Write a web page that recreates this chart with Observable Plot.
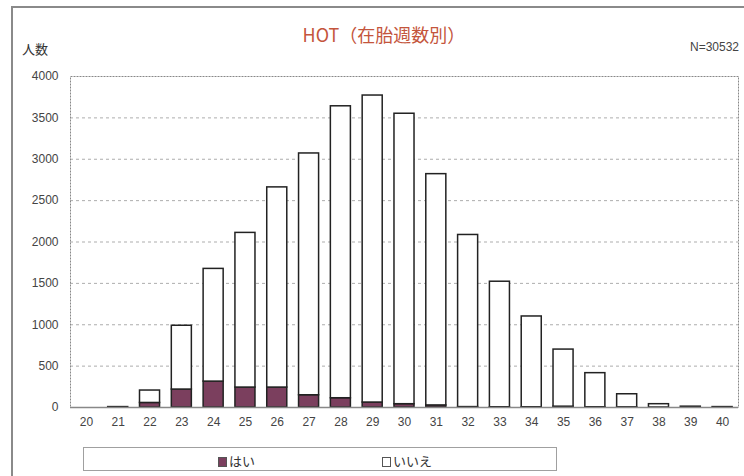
<!DOCTYPE html>
<html><head><meta charset="utf-8">
<script src="https://cdn.jsdelivr.net/npm/d3@7"></script>
<script src="https://cdn.jsdelivr.net/npm/@observablehq/plot@0.6"></script>
<style>
body{margin:0;background:#fff;font-family:"Liberation Sans","Noto Sans CJK JP",sans-serif;}
#wrap{position:relative;width:744px;height:476px;overflow:hidden;background:#fff;}
#border{position:absolute;left:11px;top:6px;width:800px;height:500px;border-left:2px solid #8a8a8a;border-top:2px solid #8a8a8a;}
.t{position:absolute;white-space:nowrap;}
#chart{position:absolute;left:0;top:0;}
#legend{position:absolute;left:83px;top:447px;width:472px;height:22px;border:1px solid #a0a0a0;font-size:13px;color:#333;}
.sw{display:inline-block;width:7px;height:8px;border:1px solid #555;vertical-align:middle;margin-right:2px;}
</style></head>
<body><div id="wrap">
<div id="border"></div>
<div class="t" style="left:0;width:768px;top:21px;text-align:center;font-size:18px;color:#c4553c;font-family:'Noto Sans CJK JP',sans-serif;">HOT（在胎週数別）</div>
<div class="t" style="left:22px;top:39px;font-size:13px;color:#333;font-family:'Noto Sans CJK JP',sans-serif;">人数</div>
<div class="t" style="left:690px;top:40px;font-size:12px;color:#444;">N=30532</div>
<div id="chart"></div>
<div id="legend">
  <span class="t" style="left:134px;top:3px;font-family:'Noto Sans CJK JP',sans-serif;"><span class="sw" style="background:#7b3f5e"></span>はい</span>
  <span class="t" style="left:298px;top:3px;font-family:'Noto Sans CJK JP',sans-serif;"><span class="sw" style="background:#fff"></span>いいえ</span>
</div>
</div>
<script>
const weeks = ["20","21","22","23","24","25","26","27","28","29","30","31","32","33","34","35","36","37","38","39","40"];
const totals = [0,5,205,988,1675,2110,2660,3070,3640,3770,3550,2820,2085,1520,1100,700,415,160,40,10,5];
const hai = [0,0,55,217,313,241,241,148,112,60,40,25,5,3,3,10,3,2,0,0,0];
const seriesNames = ["はい","いいえ"];
const yTicks = [0,500,1000,1500,2000,2500,3000,3500,4000];

const rows = [];
weeks.forEach((w,i)=>rows.push({week:w, series:seriesNames[0], value:hai[i]}));
weeks.forEach((w,i)=>rows.push({week:w, series:seriesNames[1], value:totals[i]-hai[i]}));

const chart = Plot.plot({
  width:744, height:440,
  marginTop:76, marginBottom:33, marginLeft:70, marginRight:6,
  style:{fontFamily:"Liberation Sans, sans-serif", fontSize:"12px", color:"#444", background:"transparent"},
  x:{domain:weeks, paddingInner:0.37, paddingOuter:0.185, round:false, tickSize:0, tickPadding:10, label:null},
  y:{domain:[0,4000], ticks:yTicks, tickSize:0, tickPadding:12, label:null},
  color:{domain:seriesNames, range:["#7b3f5e","#ffffff"]},
  marks:[
    Plot.gridY(yTicks.filter(d=>d>0&&d<4000), {stroke:"#999", strokeOpacity:0.8, strokeDasharray:"3,3"}),
    Plot.frame({stroke:"#888", strokeDasharray:"2,1"}),
    Plot.barY(rows, Plot.stackY({x:"week", y:"value", fill:"series", order:seriesNames, stroke:"#222", strokeWidth:1.5})),
    Plot.ruleY([0], {stroke:"#888", strokeWidth:1.5}),
    Plot.axisY({ticks:yTicks, tickSize:0, tickPadding:12, tickFormat:d=>String(d)}),
    Plot.axisX({tickSize:0, tickPadding:10})
  ]
});
document.getElementById("chart").appendChild(chart);
</script>
</body></html>
